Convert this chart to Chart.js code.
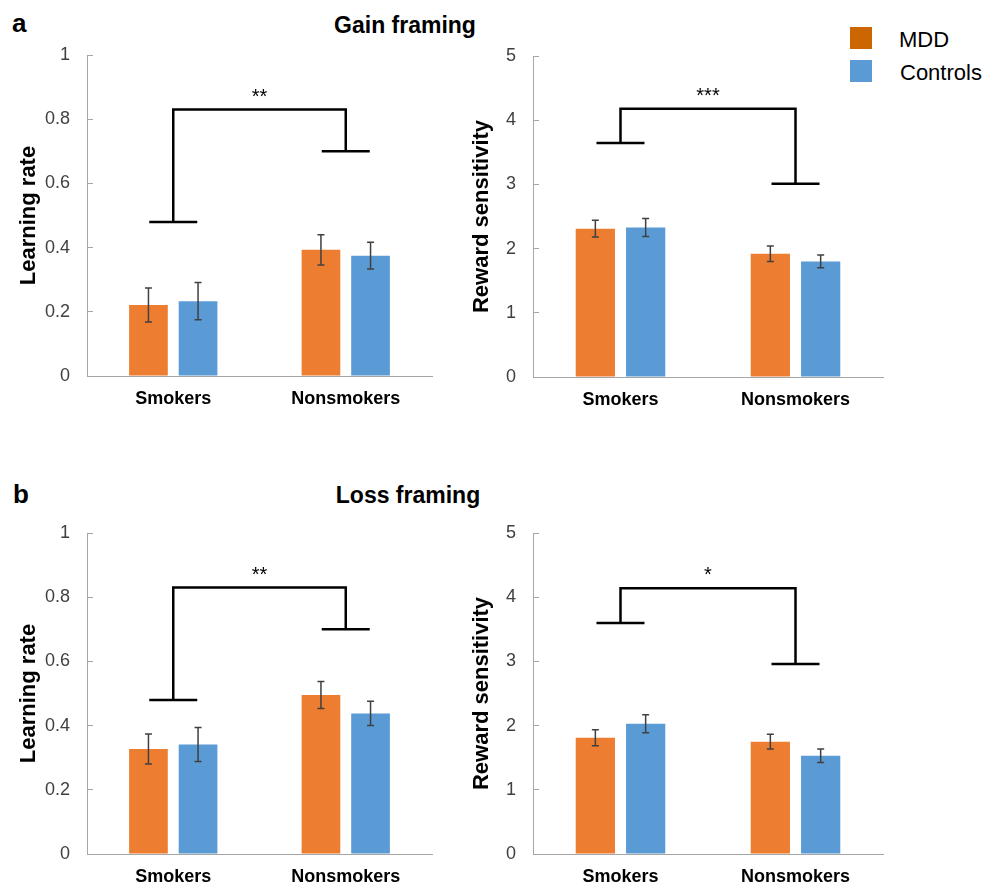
<!DOCTYPE html>
<html>
<head>
<meta charset="utf-8">
<script src="https://cdn.jsdelivr.net/npm/chart.js@4.4.1/dist/chart.umd.min.js"></script>
<style>
  body { margin: 0; background: #fff; }
  #page { position: relative; width: 989px; height: 888px; overflow: hidden; background: #fff;
          font-family: 'Liberation Sans', Arial, sans-serif; }
  .box { position: absolute; }
  .txt { position: absolute; line-height: 1; white-space: nowrap; color: #000; }
  .sq { position: absolute; width: 22px; height: 22px; }
</style>
</head>
<body>
<div id="page">
  <div class="txt" style="left:12px; top:10px; font-size:26px; font-weight:bold;">a</div>
  <div class="txt" style="left:205px; top:13.5px; width:400px; text-align:center; font-size:23px; font-weight:bold;">Gain framing</div>
  <div class="txt" style="left:13px; top:481px; font-size:26px; font-weight:bold;">b</div>
  <div class="txt" style="left:208px; top:484px; width:400px; text-align:center; font-size:23px; font-weight:bold;">Loss framing</div>

  <div class="sq" style="left:850px; top:27px; background:#cc6600;"></div>
  <div class="sq" style="left:850px; top:60px; background:#5b9bd5;"></div>
  <div class="txt" id="leg0" style="left:899px; top:28.7px; font-size:22px;"></div>
  <div class="txt" id="leg1" style="left:900px; top:61.7px; font-size:22px;"></div>

  <div class="box" style="left:0px; top:40px; width:440px; height:380px;"><canvas id="gainLr"></canvas></div>
  <div class="box" style="left:450px; top:40px; width:445px; height:380px;"><canvas id="gainRs"></canvas></div>
  <div class="box" style="left:0px; top:517px; width:440px; height:371px;"><canvas id="lossLr"></canvas></div>
  <div class="box" style="left:450px; top:517px; width:445px; height:371px;"><canvas id="lossRs"></canvas></div>
</div>
<script>
'use strict';
let groups = ['Smokers', 'Nonsmokers'];
let seriesNames = ['MDD', 'Controls'];

// learning rate / reward sensitivity, mean and error (+/-)
let gainLrMdd = [0.221, 0.393];
let gainLrMddErr = [0.053, 0.047];
let gainLrCtl = [0.233, 0.375];
let gainLrCtlErr = [0.058, 0.042];

let gainRsMdd = [2.31, 1.92];
let gainRsMddErr = [0.13, 0.12];
let gainRsCtl = [2.33, 1.80];
let gainRsCtlErr = [0.14, 0.10];

let lossLrMdd = [0.327, 0.495];
let lossLrMddErr = [0.047, 0.042];
let lossLrCtl = [0.341, 0.438];
let lossLrCtlErr = [0.053, 0.038];

let lossRsMdd = [1.81, 1.75];
let lossRsMddErr = [0.125, 0.115];
let lossRsCtl = [2.03, 1.53];
let lossRsCtlErr = [0.14, 0.105];

// bracket: [top line, left foot, right foot]
let gainLrBracket = [0.83, 0.48, 0.70];
let gainRsBracket = [4.18, 3.645, 3.01];
let lossLrBracket = [0.83, 0.48, 0.70];
let lossRsBracket = [4.14, 3.60, 2.96];
let stars = ['**', '***', '**', '*'];

let lrTicks = ['0', '0.2', '0.4', '0.6', '0.8', '1'];
let rsTicks = ['0', '1', '2', '3', '4', '5'];

let orange = '#ed7d31';
let blue = '#5b9bd5';
let fontFam = "'Liberation Sans', Arial, sans-serif";

document.getElementById('leg0').textContent = seriesNames[0];
document.getElementById('leg1').textContent = seriesNames[1];

// error bars + significance bracket
let sigPlugin = {
    id: 'sig',
    afterDatasetsDraw(chart, args, opts) {
        let ctx = chart.ctx;
        let y = chart.scales.y;
        let x = chart.scales.x;
        ctx.save();
        ctx.strokeStyle = '#404040';
        ctx.lineWidth = 1.5;
        chart.data.datasets.forEach(function (ds, i) {
            let meta = chart.getDatasetMeta(i);
            meta.data.forEach(function (bar, j) {
                let hi = y.getPixelForValue(ds.data[j] + ds.err[j]);
                let lo = y.getPixelForValue(ds.data[j] - ds.err[j]);
                ctx.beginPath();
                ctx.moveTo(bar.x, hi); ctx.lineTo(bar.x, lo);
                ctx.moveTo(bar.x - 3.5, hi); ctx.lineTo(bar.x + 3.5, hi);
                ctx.moveTo(bar.x - 3.5, lo); ctx.lineTo(bar.x + 3.5, lo);
                ctx.stroke();
            });
        });

        let b = opts.bracket;
        let x0 = x.getPixelForValue(0);
        let x1 = x.getPixelForValue(1);
        let top = y.getPixelForValue(b[0]);
        let lf = y.getPixelForValue(b[1]);
        let rf = y.getPixelForValue(b[2]);
        ctx.strokeStyle = '#000';
        ctx.lineWidth = 2.5;
        ctx.beginPath();
        ctx.moveTo(x0, lf); ctx.lineTo(x0, top); ctx.lineTo(x1, top); ctx.lineTo(x1, rf);
        ctx.moveTo(x0 - 24, lf); ctx.lineTo(x0 + 24, lf);
        ctx.moveTo(x1 - 24, rf); ctx.lineTo(x1 + 24, rf);
        ctx.stroke();

        ctx.fillStyle = '#000';
        ctx.font = '20px ' + fontFam;
        ctx.textAlign = 'center';
        ctx.textBaseline = 'alphabetic';
        ctx.fillText(opts.label, (x0 + x1) / 2, top - 7);
        ctx.restore();
    }
};

function makeChart(id, mdd, mddErr, ctl, ctlErr, yMax, step, tickLabels, yTitle, bracket, label, lay) {
    return new Chart(document.getElementById(id), {
        type: 'bar',
        data: {
            labels: groups,
            datasets: [
                { label: seriesNames[0], data: mdd, err: mddErr, backgroundColor: orange },
                { label: seriesNames[1], data: ctl, err: ctlErr, backgroundColor: blue }
            ]
        },
        options: {
            responsive: true,
            maintainAspectRatio: false,
            animation: false,
            events: [],
            layout: { padding: { top: lay.top, right: lay.right, left: 0, bottom: 0 } },
            datasets: { bar: { barPercentage: 0.78, categoryPercentage: 0.575 } },
            plugins: {
                legend: { display: false },
                tooltip: { enabled: false },
                sig: { bracket: bracket, label: label }
            },
            scales: {
                x: {
                    grid: { display: false, drawTicks: false },
                    border: { display: true, color: '#a6a6a6', width: 1 },
                    ticks: { color: '#000', padding: 12, font: { family: fontFam, size: 18, weight: 'bold' } },
                    afterFit: function (s) { s.height = lay.xh; }
                },
                y: {
                    min: 0,
                    max: yMax,
                    grid: { drawOnChartArea: false, drawTicks: true, tickLength: -6, color: '#a6a6a6' },
                    border: { display: true, color: '#a6a6a6', width: 1 },
                    ticks: {
                        stepSize: step,
                        padding: 23,
                        color: '#404040',
                        font: { family: fontFam, size: 18 },
                        callback: function (v, i) { return tickLabels[i]; }
                    },
                    title: {
                        display: true,
                        text: yTitle,
                        color: '#000',
                        padding: { top: lay.tp, bottom: 0 },
                        font: { family: fontFam, size: 22, weight: 'bold' }
                    },
                    afterFit: function (s) {
                        s.width = lay.yw;
                        s.paddingTop = 10;
                        s.paddingBottom = 10;
                    }
                }
            }
        },
        plugins: [sigPlugin]
    });
}

makeChart('gainLr', gainLrMdd, gainLrMddErr, gainLrCtl, gainLrCtlErr, 1, 0.2, lrTicks,
    'Learning rate', gainLrBracket, stars[0], { top: 15, right: 8, xh: 44, yw: 87, tp: 16 });
makeChart('gainRs', gainRsMdd, gainRsMddErr, gainRsCtl, gainRsCtlErr, 5, 1, rsTicks,
    'Reward sensitivity', gainRsBracket, stars[1], { top: 16, right: 12, xh: 43, yw: 83, tp: 19 });
makeChart('lossLr', lossLrMdd, lossLrMddErr, lossLrCtl, lossLrCtlErr, 1, 0.2, lrTicks,
    'Learning rate', lossLrBracket, stars[2], { top: 16, right: 8, xh: 34, yw: 87, tp: 16 });
makeChart('lossRs', lossRsMdd, lossRsMddErr, lossRsCtl, lossRsCtlErr, 5, 1, rsTicks,
    'Reward sensitivity', lossRsBracket, stars[3], { top: 16, right: 12, xh: 34, yw: 83, tp: 19 });
</script>
</body>
</html>
